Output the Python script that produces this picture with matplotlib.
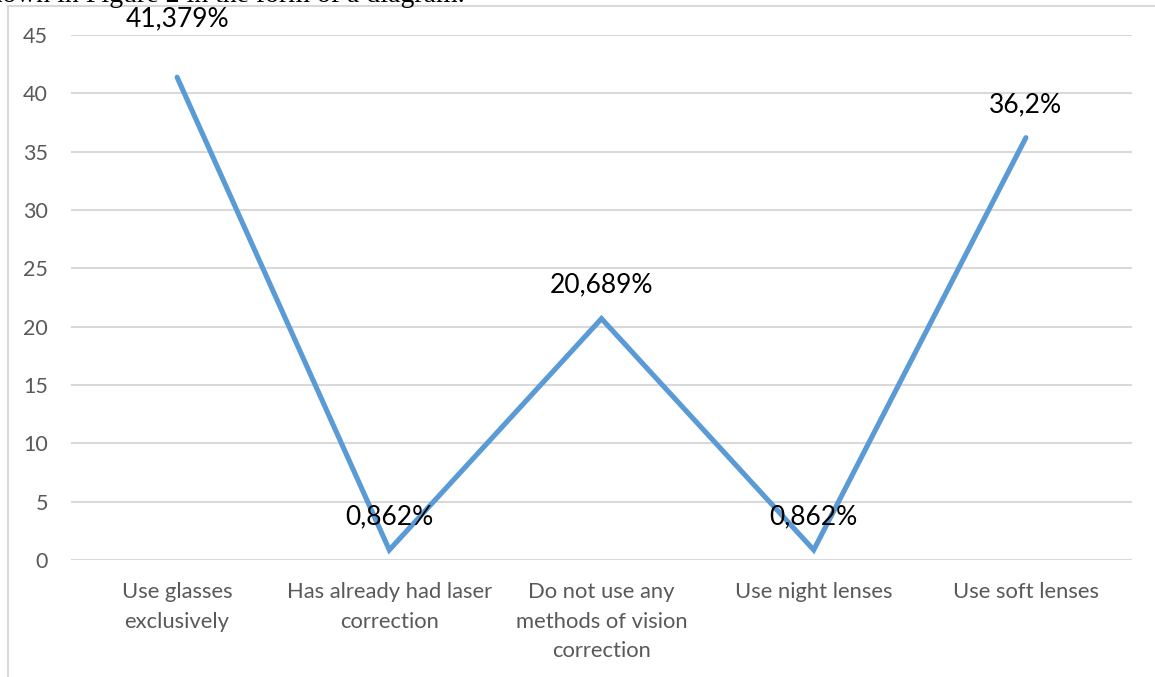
import matplotlib
matplotlib.use("Agg")
import matplotlib.pyplot as plt
from matplotlib.lines import Line2D

# Survey answers: how respondents correct their vision (% of respondents)
categories = [
    "Use glasses\nexclusively",
    "Has already had laser\ncorrection",
    "Do not use any\nmethods of vision\ncorrection",
    "Use night lenses",
    "Use soft lenses",
]
shares = [41.379, 0.862, 20.689, 0.862, 36.2]
share_labels = ["41,379%", "0,862%", "20,689%", "0,862%", "36,2%"]
yticks = [0, 5, 10, 15, 20, 25, 30, 35, 40, 45]

W, H = 1155, 677
fig = plt.figure(figsize=(W / 100, H / 100), dpi=100)

# plot area in pixel terms
left, right, top, bottom = 71, 1132, 35, 560
ax = fig.add_axes([left / W, 1 - bottom / H, (right - left) / W, (bottom - top) / H])

x = list(range(len(categories)))
ax.plot(x, shares, color="#5B9BD5", linewidth=3.7,
        solid_capstyle="round", solid_joinstyle="miter", zorder=3)

ax.set_xlim(-0.5, len(categories) - 0.5)
ax.set_ylim(0, 45)
ax.set_yticks(yticks)
ax.set_xticks(x)
ax.set_xticklabels(categories, fontsize=15.8, color="#595959",
                   family="Lato", linespacing=1.6, va="top")
ax.set_yticklabels([str(t) for t in yticks], fontsize=15.5,
                   color="#595959", family="Lato")
ax.tick_params(length=0, axis="y", pad=16.5)
ax.tick_params(length=0, axis="x", pad=16)
ax.grid(axis="y", color="#D9D9D9", linewidth=1.5)
ax.set_axisbelow(True)
for s in ax.spines.values():
    s.set_visible(False)

# data labels, mostly above the points
offsets = [58, 33, 34, 33, 33]
for xi, val, lab, off in zip(x, shares, share_labels, offsets):
    ax.annotate(lab, (xi, val), xytext=(0, off), textcoords="offset pixels",
                ha="center", va="center", fontsize=19, family="Lato",
                color="black", zorder=4)

# chart frame (left and top edges)
fig.add_artist(Line2D([7.5 / W, 7.5 / W], [0, 1 - 6 / H],
                      transform=fig.transFigure, color="#D9D9D9", linewidth=1.5))
fig.add_artist(Line2D([7.5 / W, 1], [1 - 6 / H, 1 - 6 / H],
                      transform=fig.transFigure, color="#D9D9D9", linewidth=1.5))

# tail of the caption line above the chart
fig.text(465 / W, 1 - 2.5 / H, "shown in Figure 2 in the form of a diagram.",
         ha="right", va="baseline", fontsize=20, family="Liberation Serif",
         color="black")

fig.savefig("out.png", dpi=100)
